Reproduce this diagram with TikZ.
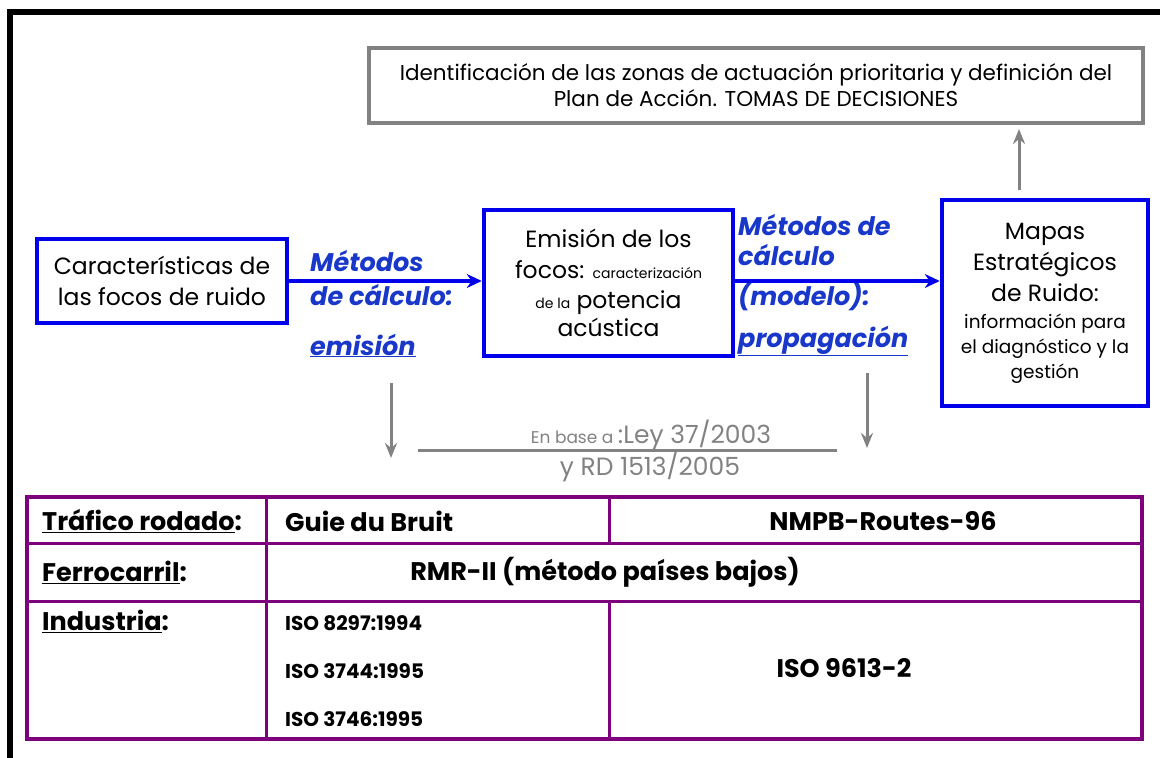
\documentclass[tikz,border=0pt]{standalone}
\usepackage{fontspec}
\setmainfont{Poppins}
\usetikzlibrary{arrows.meta}
\definecolor{boxblue}{RGB}{0,0,235}
\definecolor{labelblue}{RGB}{25,55,200}
\definecolor{linegray}{RGB}{130,130,130}
\definecolor{tablepurple}{RGB}{125,0,125}

\begin{document}
\begin{tikzpicture}[x=1pt, y=-1pt,
    bluebox/.style={draw=boxblue, line width=4.5pt, fill=white, align=center, inner sep=0pt,
                    font=\fontsize{23.5}{31}\selectfont},
    greybox/.style={draw=linegray, line width=4pt, align=center, inner sep=0pt,
                    font=\fontsize{21.5}{26}\selectfont},
    flow/.style={draw=boxblue, line width=4pt, -{Stealth[length=15pt, width=14pt]}},
    fall/.style={draw=linegray, line width=3pt, -{Stealth[length=15pt, width=12pt]}},
    method/.style={text=labelblue, align=left, anchor=base west, inner sep=0pt,
                   font=\fontsize{25.5}{30}\selectfont\bfseries\itshape},
    legal/.style={text=linegray, inner sep=0pt, font=\fontsize{25}{28}\selectfont},
    cell/.style={inner sep=0pt, font=\fontsize{25.5}{28}\selectfont\bfseries},
    smallcell/.style={inner sep=0pt, anchor=west, font=\fontsize{20}{24}\selectfont\bfseries},
    grid/.style={draw=tablepurple, line width=3.5pt}
  ]
  \useasboundingbox (0,0) rectangle (1160,758);
  \draw[line width=5.5pt] (10,758) -- (10,12) -- (1160,12);

  \node[greybox, minimum width=774, minimum height=75] (decision) at (756,85.5)
    {Identificación de las zonas de actuación prioritaria y definición del\\
     Plan de Acción. TOMAS DE DECISIONES};

  \node[bluebox, minimum width=250, minimum height=84] (sources) at (162,281)
    {Características de\\las focos de ruido};
  \node[bluebox, minimum width=249, minimum height=146] (emission) at (608.5,283)
    {Emisión de los\\
     focos: {\fontsize{14}{16}\selectfont caracterización}\\[-1pt]
     {\fontsize{14}{16}\selectfont de la} potencia\\[-3pt]
     acústica};
  \node[bluebox, minimum width=206, minimum height=206] (maps) at (1045,303)
    {Mapas\\Estratégicos\\de Ruido:\\[-4pt]
     {\fontsize{18.5}{20}\selectfont información para}\\[-6pt]
     {\fontsize{18.5}{20}\selectfont el diagnóstico y la}\\[-6pt]
     {\fontsize{18.5}{20}\selectfont gestión}};

  \node[method] (emismethod) at (310,355)
    {Métodos\\[4pt]de cálculo:\\[20pt]\underline{emisión}};
  \node[method] (propmethod) at (738,347)
    {Métodos de\\cálculo\\[10pt](modelo):\\[12pt]\underline{propagación}};

  \draw[flow] (sources.east) -- (sources.east -| emission.west);
  \draw[flow] (emission.east |- sources.east) -- (emission.east |- sources.east -| maps.west);

  \coordinate (upx) at (1019,0);
  \draw[fall, shorten <=8pt, shorten >=4pt] (maps.north -| upx) -- (decision.south -| upx);

  \node[legal] (ley) at (651,435) {{\fontsize{17}{19}\selectfont En base a }:Ley 37/2003};
  \node[legal] (rd) at (650,467) {y RD 1513/2005};
  \coordinate (lawleft) at (418,450);
  \coordinate (lawright) at (837,450);
  \draw[draw=linegray, line width=3pt] (lawleft) -- (lawright);

  \coordinate (leftdown) at (391,383);
  \coordinate (leftend) at (391,458);
  \coordinate (rightdown) at (867,373);
  \coordinate (rightend) at (867,448);
  \draw[fall] (leftdown) -- (leftend);
  \draw[fall] (rightdown) -- (rightend);

  \draw[grid] (27,497) rectangle (1142,739);
  \draw[grid, line width=3pt] (27,543) -- (1142,543);
  \draw[grid, line width=3pt] (27,601) -- (1142,601);
  \draw[grid, line width=3pt] (266,497) -- (266,739);
  \draw[grid, line width=3pt] (609,497) -- (609,543);
  \draw[grid, line width=3pt] (609,601) -- (609,739);

  \node[cell, anchor=west] (road) at (42,521) {\underline{Tráfico rodado}:};
  \node[cell, anchor=west] (rail) at (42,572) {\underline{Ferrocarril}:};
  \node[cell, anchor=west] (industry) at (42,621) {\underline{Industria}:};
  \node[cell, anchor=west] (guide) at (285,521) {Guie du Bruit};
  \node[cell] (nmpb) at (883,521) {NMPB-Routes-96};
  \node[cell] (rmr) at (605,572) {RMR-II (método países bajos)};
  \node[smallcell] (isoa) at (285,623) {ISO 8297:1994};
  \node[smallcell] (isob) at (285,671) {ISO 3744:1995};
  \node[smallcell] (isoc) at (285,719) {ISO 3746:1995};
  \node[cell] (isod) at (844,668) {ISO 9613-2};
\end{tikzpicture}
\end{document}
